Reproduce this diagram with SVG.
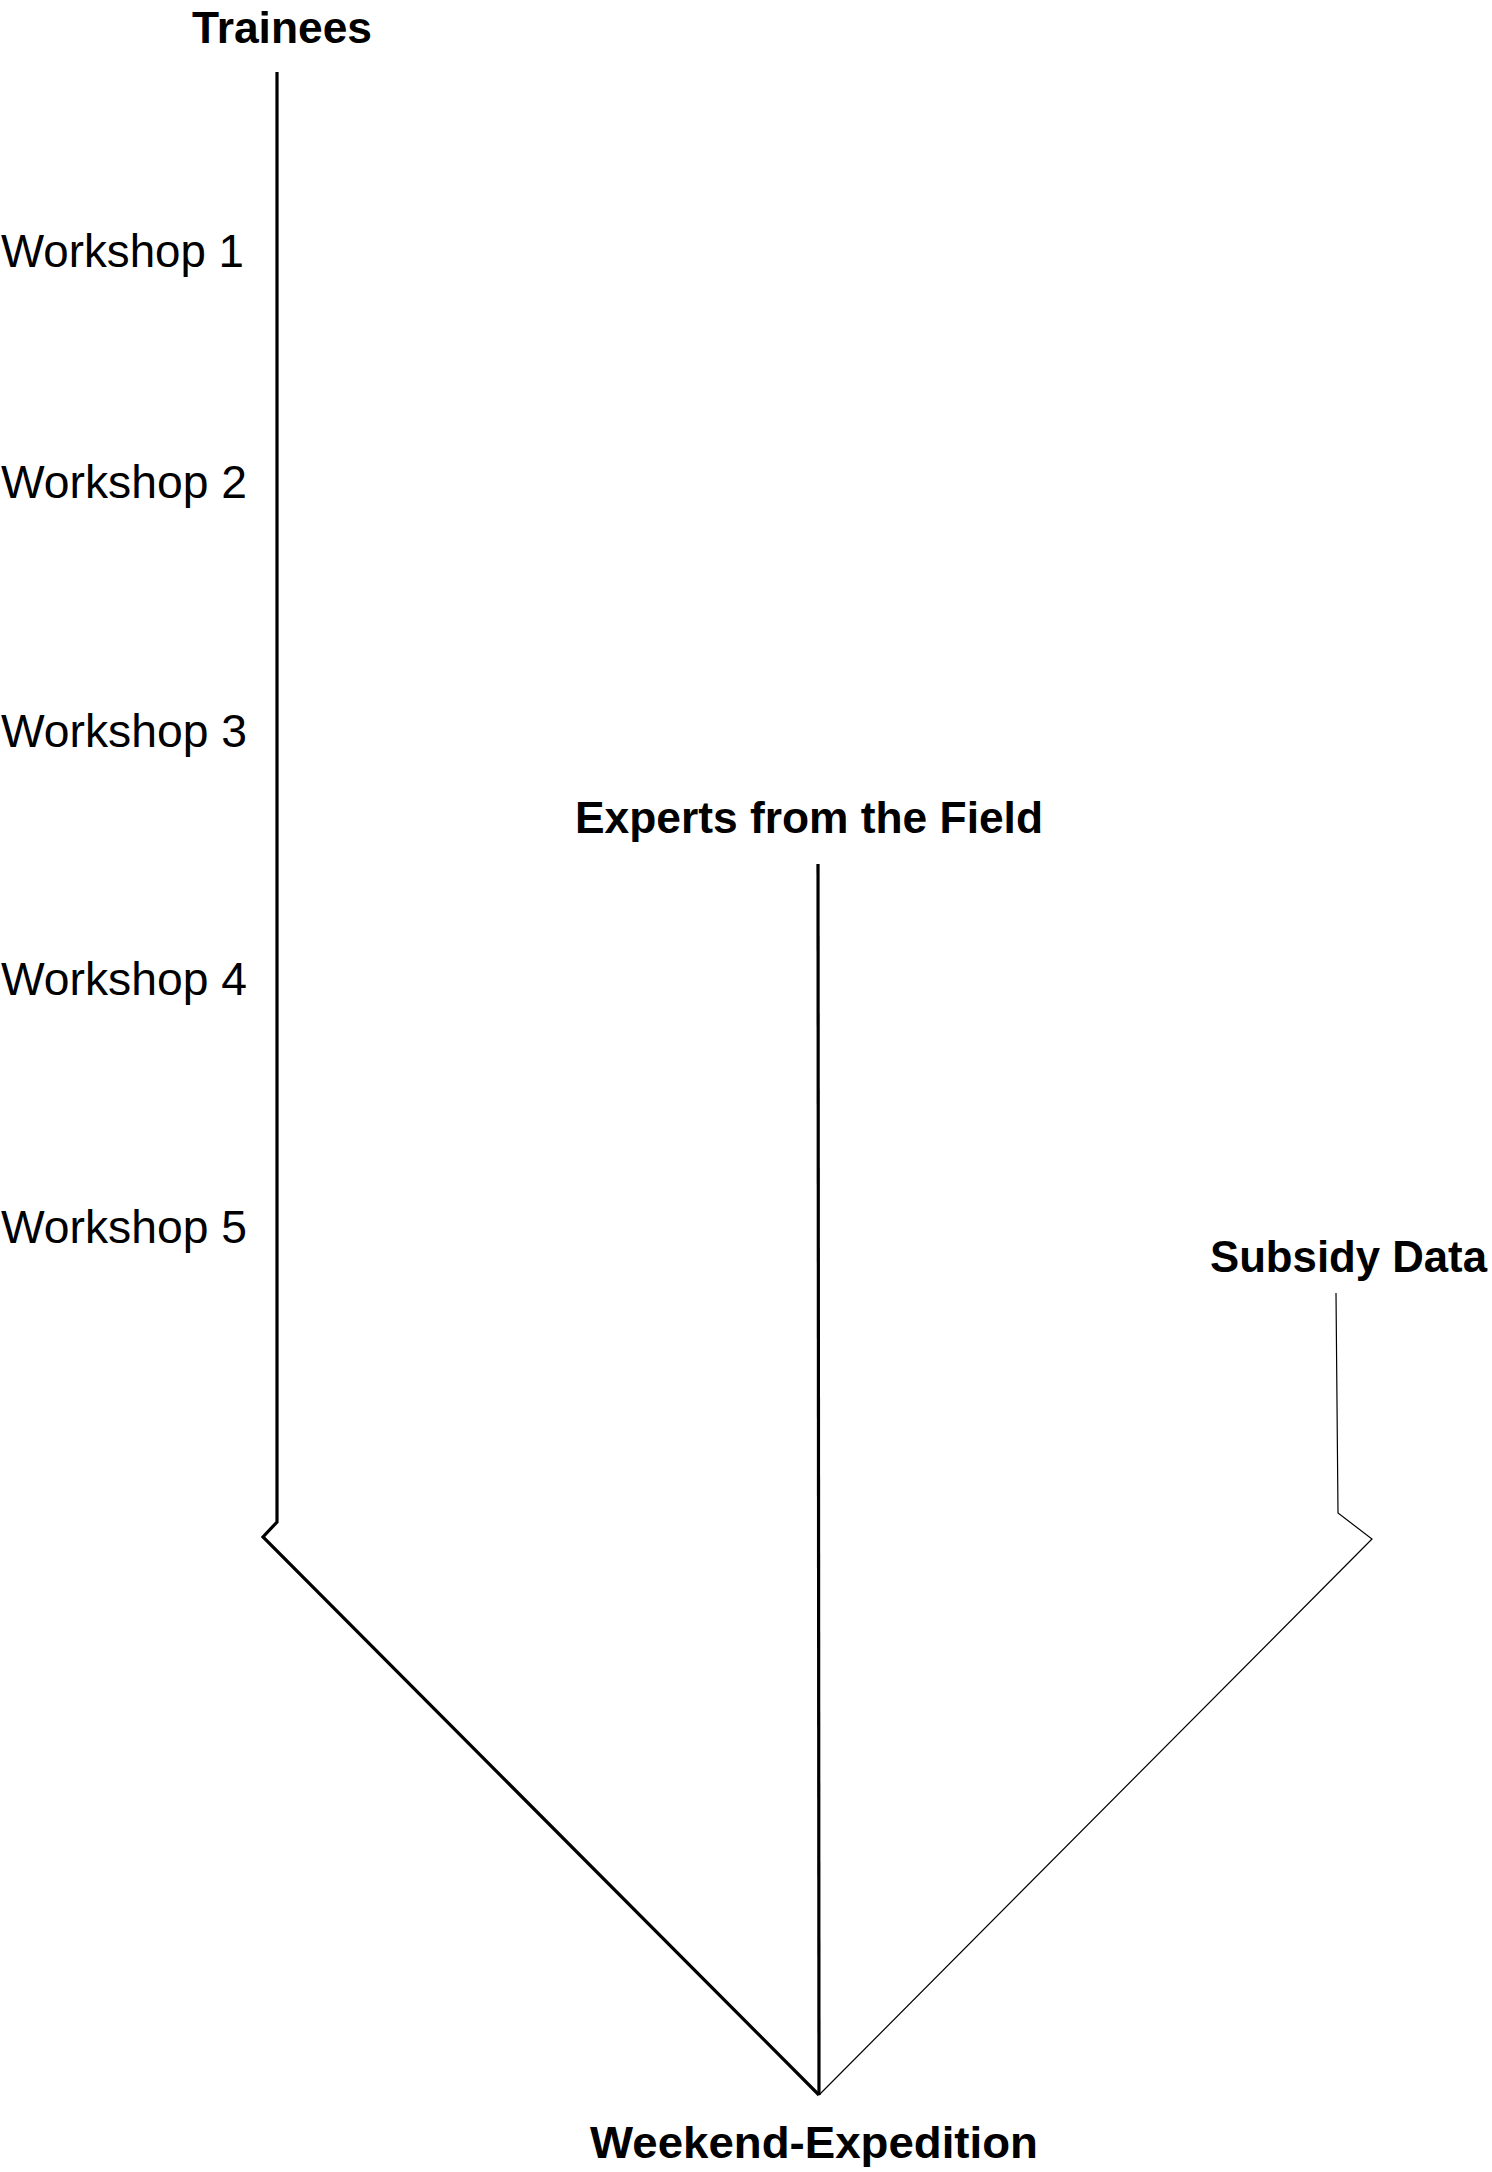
<svg xmlns="http://www.w3.org/2000/svg" width="1492" height="2172" viewBox="0 0 1492 2172">
<style>
.b{font-family:"Liberation Sans",Arial,sans-serif;font-weight:bold;font-size:44px;fill:#000}
.r{font-family:"Liberation Sans",Arial,sans-serif;font-size:46px;fill:#000}
.thick{fill:none;stroke:#000;stroke-width:3.2}
.thin{fill:none;stroke:#000;stroke-width:1.2}
</style>
<rect width="1492" height="2172" fill="#fff"/>
<g id="connectors">
<path class="thick" d="M277,72 V1522 L263,1537 L819,2095"/>
<path class="thick" d="M818,864 L819,2095"/>
<path class="thin" d="M1336,1293 L1338,1513 L1372,1539 L819,2095"/>
</g>
<g id="trainees"><text class="b" x="192" y="43" textLength="180" lengthAdjust="spacingAndGlyphs">Trainees</text></g>
<g id="workshop1"><text class="r" x="1" y="267" textLength="243" lengthAdjust="spacingAndGlyphs">Workshop 1</text></g>
<g id="workshop2"><text class="r" x="1" y="498" textLength="246" lengthAdjust="spacingAndGlyphs">Workshop 2</text></g>
<g id="workshop3"><text class="r" x="1" y="747" textLength="246" lengthAdjust="spacingAndGlyphs">Workshop 3</text></g>
<g id="workshop4"><text class="r" x="1" y="995" textLength="246" lengthAdjust="spacingAndGlyphs">Workshop 4</text></g>
<g id="workshop5"><text class="r" x="1" y="1243" textLength="246" lengthAdjust="spacingAndGlyphs">Workshop 5</text></g>
<g id="experts"><text class="b" x="575" y="833" textLength="468" lengthAdjust="spacingAndGlyphs">Experts from the Field</text></g>
<g id="subsidy"><text class="b" x="1210" y="1272" textLength="277" lengthAdjust="spacingAndGlyphs">Subsidy Data</text></g>
<g id="weekend"><text class="b" x="590" y="2158" textLength="448" lengthAdjust="spacingAndGlyphs">Weekend-Expedition</text></g>
</svg>
